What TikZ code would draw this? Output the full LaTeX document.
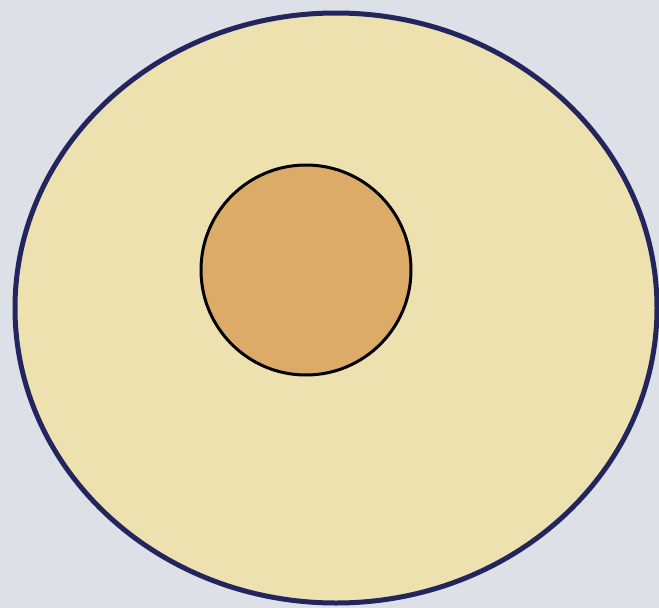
\documentclass[tikz,border=0pt]{standalone}
\definecolor{bg}{HTML}{DDE0E6}
\definecolor{cream}{HTML}{EEE1B0}
\definecolor{navy}{HTML}{23265E}
\definecolor{tan}{HTML}{DDAB68}
\tikzset{
  outercell/.style={draw=navy,fill=cream,line width=5pt},
  innercore/.style={draw=black,fill=tan,line width=3pt}
}
\begin{document}
\begin{tikzpicture}[x=1pt,y=-1pt]
\fill[bg] (0,0) rectangle (659,608);
\useasboundingbox (0,0) rectangle (659,608);
\draw[outercell] (336,308) ellipse [x radius=321, y radius=295];
\draw[innercore] (306,270) circle [radius=105];
\end{tikzpicture}
\end{document}
